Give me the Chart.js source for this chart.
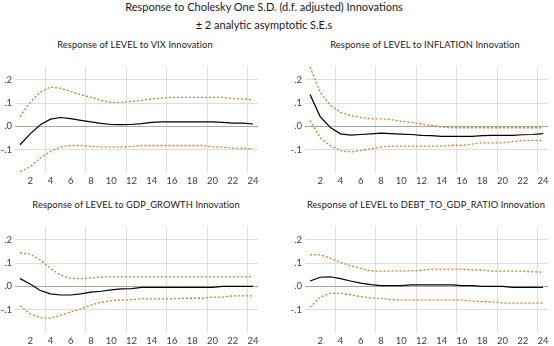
<!DOCTYPE html>
<html>
<head>
<meta charset="utf-8">
<script src="https://cdn.jsdelivr.net/npm/chart.js@4"></script>
<style>
  body { margin: 0; background: #fff; }
  #wrap { position: relative; width: 554px; height: 346px; overflow: hidden; font-family: Lato, "Open Sans", sans-serif; color: #1a1a1a; }
  .ttl { position: absolute; width: 320px; text-align: center; white-space: nowrap; line-height: 14px; }
  .main { font-size: 11px; }
  .sub { font-size: 9.3px; letter-spacing: 0.1px; }
  canvas { position: absolute; }
</style>
</head>
<body>
<div id="wrap">
  <div class="ttl main" style="left:104px; top:0px;">Response to Cholesky One S.D. (d.f. adjusted) Innovations</div>
  <div class="ttl main" style="left:104px; top:18px;">± 2 analytic asymptotic S.E.s</div>
  <div class="ttl sub" style="left:-25px; top:38px;">Response of LEVEL to VIX Innovation</div>
  <div class="ttl sub" style="left:265px; top:38px;">Response of LEVEL to INFLATION Innovation</div>
  <div class="ttl sub" style="left:-24px; top:198px;">Response of LEVEL to GDP_GROWTH Innovation</div>
  <div class="ttl sub" style="left:266px; top:198px;">Response of LEVEL to DEBT_TO_GDP_RATIO Innovation</div>
  <canvas id="c1" width="262" height="128" style="left:0px; top:57px;"></canvas>
  <canvas id="c2" width="262" height="128" style="left:290px; top:57px;"></canvas>
  <canvas id="c3" width="262" height="128" style="left:0px; top:217px;"></canvas>
  <canvas id="c4" width="262" height="128" style="left:290px; top:217px;"></canvas>
</div>
<script>
// periods after the shock
const periods = ['1','2','3','4','5','6','7','8','9','10','11','12','13','14','15','16','17','18','19','20','21','22','23','24'];
const yTicks = [-0.1, 0, 0.1, 0.2];
const yTickLabels = ['-.1', '.0', '.1', '.2'];

// LEVEL to VIX
const vixResp  = [-0.079,-0.032,0.007,0.031,0.038,0.033,0.026,0.019,0.013,0.008,0.007,0.008,0.012,0.017,0.019,0.019,0.019,0.019,0.019,0.019,0.017,0.014,0.014,0.010];
const vixUpper = [0.042,0.104,0.146,0.169,0.163,0.149,0.136,0.124,0.111,0.103,0.103,0.107,0.111,0.118,0.121,0.124,0.124,0.124,0.124,0.124,0.124,0.119,0.117,0.115];
const vixLower = [-0.194,-0.174,-0.135,-0.108,-0.088,-0.082,-0.082,-0.086,-0.089,-0.089,-0.089,-0.086,-0.082,-0.082,-0.082,-0.082,-0.082,-0.082,-0.082,-0.088,-0.089,-0.093,-0.094,-0.097];

// LEVEL to INFLATION
const infResp  = [0.136,0.042,-0.005,-0.032,-0.038,-0.035,-0.032,-0.029,-0.031,-0.033,-0.035,-0.039,-0.040,-0.043,-0.043,-0.043,-0.043,-0.040,-0.039,-0.039,-0.039,-0.036,-0.035,-0.031];
const infUpper = [0.254,0.146,0.090,0.060,0.046,0.038,0.032,0.032,0.029,0.021,0.017,0.010,0.004,-0.003,-0.006,-0.006,-0.006,-0.006,-0.006,-0.006,-0.006,-0.006,-0.006,-0.006];
const infLower = [0.025,-0.049,-0.083,-0.104,-0.110,-0.104,-0.097,-0.088,-0.085,-0.085,-0.085,-0.085,-0.085,-0.085,-0.081,-0.081,-0.076,-0.071,-0.071,-0.071,-0.065,-0.061,-0.060,-0.060];

// LEVEL to GDP_GROWTH
const gdpResp  = [0.033,0.010,-0.018,-0.032,-0.037,-0.037,-0.032,-0.025,-0.021,-0.015,-0.011,-0.010,-0.004,-0.004,-0.004,-0.004,-0.004,-0.004,-0.004,-0.004,0.000,0.000,0.000,0.000];
const gdpUpper = [0.143,0.138,0.113,0.076,0.048,0.034,0.033,0.036,0.040,0.041,0.041,0.041,0.041,0.041,0.041,0.041,0.041,0.041,0.041,0.041,0.041,0.041,0.041,0.041];
const gdpLower = [-0.083,-0.117,-0.135,-0.135,-0.124,-0.110,-0.097,-0.080,-0.069,-0.061,-0.059,-0.057,-0.054,-0.054,-0.054,-0.054,-0.051,-0.051,-0.051,-0.046,-0.046,-0.041,-0.041,-0.041];

// LEVEL to DEBT_TO_GDP_RATIO
const debtResp  = [0.023,0.039,0.041,0.033,0.023,0.014,0.007,0.003,0.003,0.003,0.006,0.006,0.006,0.006,0.006,0.003,0.003,0.000,0.000,0.000,-0.004,-0.004,-0.004,-0.004];
const debtUpper = [0.135,0.135,0.121,0.103,0.088,0.077,0.066,0.065,0.066,0.066,0.066,0.069,0.074,0.074,0.074,0.074,0.070,0.070,0.065,0.065,0.065,0.065,0.062,0.061];
const debtLower = [-0.090,-0.046,-0.030,-0.030,-0.036,-0.044,-0.050,-0.052,-0.057,-0.059,-0.059,-0.059,-0.059,-0.059,-0.059,-0.059,-0.063,-0.066,-0.066,-0.072,-0.072,-0.072,-0.072,-0.072];

const bandColor = '#e07a2a';

function makePanel(id, resp, upper, lower) {
    const band = (d) => ({
        data: d,
        borderColor: bandColor,
        borderWidth: 1.3,
        borderDash: [2, 2],
        pointRadius: 0,
        tension: 0,
        fill: false
    });
    return new Chart(document.getElementById(id), {
        type: 'line',
        data: {
            labels: periods,
            datasets: [
                band(upper),
                band(lower),
                { data: resp, borderColor: '#000', borderWidth: 1.2, pointRadius: 0, tension: 0, fill: false }
            ]
        },
        options: {
            responsive: false,
            animation: false,
            devicePixelRatio: 1,
            layout: { padding: { top: 6, right: 4, left: 0, bottom: 0 } },
            plugins: { legend: { display: false }, tooltip: { enabled: false } },
            scales: {
                x: {
                    type: 'category',
                    offset: true,
                    border: { display: false },
                    grid: {
                        offset: true,
                        drawTicks: false,
                        lineWidth: 1,
                        color: (c) => (c.index % 4 === 3 ? '#dedede' : 'rgba(0,0,0,0)')
                    },
                    ticks: {
                        autoSkip: false,
                        maxRotation: 0,
                        padding: 2,
                        color: '#404040',
                        font: { family: 'Lato', size: 9.5 },
                        callback: (v, i) => ((i + 1) % 2 === 0 ? periods[i] : '')
                    },
                    afterFit: (s) => { s.height = 12; }
                },
                y: {
                    min: -0.2,
                    max: 0.26,
                    border: { display: false },
                    afterBuildTicks: (s) => { s.ticks = yTicks.map(v => ({ value: v })); },
                    afterFit: (s) => { s.width = 15; },
                    grid: {
                        drawTicks: false,
                        lineWidth: 1,
                        color: (c) => (c.tick && c.tick.value === 0 ? '#a8a8a8' : '#dedede')
                    },
                    ticks: {
                        padding: 3,
                        color: '#404040',
                        font: { family: 'Lato', size: 9.5 },
                        callback: (v) => yTickLabels[yTicks.indexOf(v)]
                    }
                }
            }
        }
    });
}

makePanel('c1', vixResp, vixUpper, vixLower);
makePanel('c2', infResp, infUpper, infLower);
makePanel('c3', gdpResp, gdpUpper, gdpLower);
makePanel('c4', debtResp, debtUpper, debtLower);
</script>
</body>
</html>
